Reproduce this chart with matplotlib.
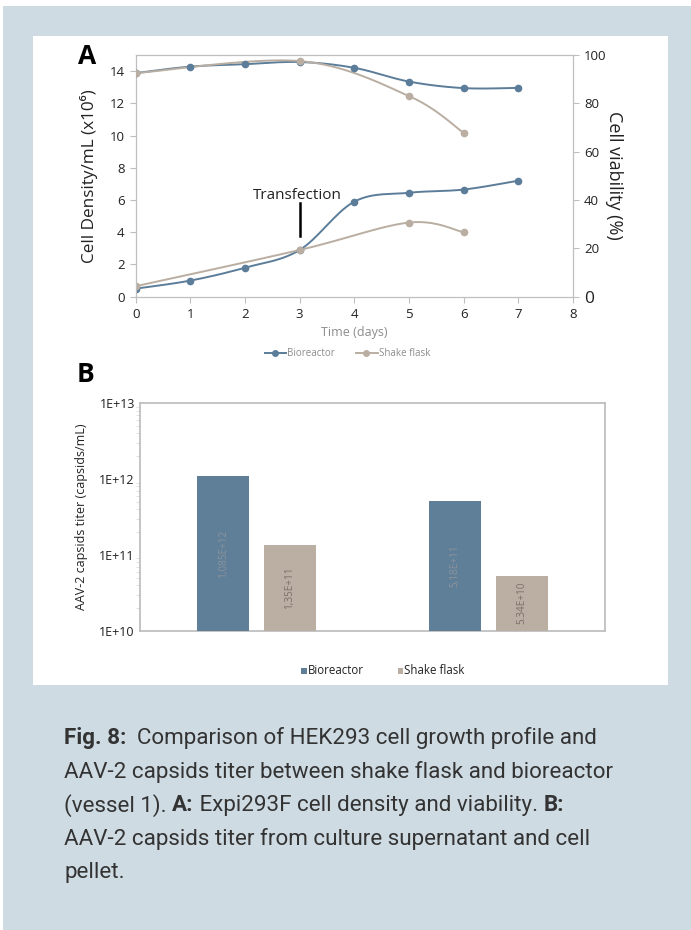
import numpy as np
import matplotlib
matplotlib.use("Agg")
from matplotlib import pyplot as plt
from matplotlib.patches import Rectangle

plt.rcParams['font.family'] = ['Open Sans', 'DejaVu Sans']

# panel A data
days_bio = [0, 1, 2, 3, 4, 5, 6, 7]
density_bio = [0.5, 1.0, 1.8, 2.9, 5.9, 6.45, 6.65, 7.2]
viability_bio = [92.5, 95.2, 96.2, 97.1, 94.7, 89.0, 86.3, 86.4]
days_flask = [0, 3, 5, 6]
density_flask = [0.65, 2.9, 4.6, 4.0]
viability_flask = [92.5, 97.5, 83.0, 67.8]

# panel B data
groups = [0, 1]
titer_bio = [1.085e12, 5.18e11]
titer_flask = [1.35e11, 5.34e10]
labels_bio = ["1,085E+12", "5,18E+11"]
labels_flask = ["1,35E+11", "5.34E+10"]
log_ticks = [1e10, 1e11, 1e12, 1e13]
log_ticklabels = ["1E+10", "1E+11", "1E+12", "1E+13"]

BLUE = "#5b7d99"
GRAY = "#b9aea1"
BAR_BLUE = "#5f7e98"
BAR_GRAY = "#bbafa3"
SPINE = "#bfbfbf"
BG = "#cfdbe3"

W, H = 691, 930


def px(l, t, r, b):
    return [l / W, 1 - b / H, (r - l) / W, (b - t) / H]


def smooth(x, y, n=30):
    # excel style smoothed line (catmull-rom through the points)
    pts = np.column_stack([x, y]).astype(float)
    out = [pts[0]]
    for i in range(len(pts) - 1):
        p0 = pts[max(i - 1, 0)]
        p1 = pts[i]
        p2 = pts[i + 1]
        p3 = pts[min(i + 2, len(pts) - 1)]
        c1 = p1 + (p2 - p0) / 6
        c2 = p2 - (p3 - p1) / 6
        t = np.linspace(0, 1, n)[1:, None]
        seg = ((1 - t) ** 3) * p1 + 3 * ((1 - t) ** 2) * t * c1 + 3 * (1 - t) * t ** 2 * c2 + t ** 3 * p2
        out.extend(seg)
    out = np.array(out)
    return out[:, 0], out[:, 1]


fig = plt.figure(figsize=(W / 100, H / 100), dpi=100)
fig.patch.set_facecolor("white")
fig.patches.append(Rectangle((3 / W, 0), 1, 1 - 6 / H, transform=fig.transFigure,
                             facecolor=BG, edgecolor="none", zorder=-2))
fig.patches.append(Rectangle((33 / W, 1 - 685 / H), (668 - 33) / W, (685 - 36) / H,
                             transform=fig.transFigure, facecolor="white",
                             edgecolor="none", zorder=-1))

# ---- panel A ----
ax = fig.add_axes(px(135.7, 55, 573, 296.7))
ax2 = ax.twinx()
ax.set_xlim(0, 8)
ax.set_ylim(0, 15)
ax2.set_ylim(0, 100)
ax.set_xticks(range(9))
ax.set_yticks(range(0, 15, 2))
ax2.set_yticks(range(0, 101, 20))
for a in (ax, ax2):
    for s in a.spines.values():
        s.set_color(SPINE)
    a.tick_params(colors=SPINE, labelcolor="#222222", labelsize=9.5, length=4, pad=4)
for lab in ax2.get_yticklabels():
    if lab.get_text() == "0":
        lab.set_fontsize(12.5)

xb, yb = smooth(days_bio, density_bio)
ax.plot(xb, yb, color=BLUE, lw=1.4, zorder=3)
ax.plot(days_bio, density_bio, "o", color=BLUE, ms=4.5, zorder=4)
xf, yf = smooth(days_flask, density_flask)
ax.plot(xf, yf, color=GRAY, lw=1.4, zorder=3)
ax.plot(days_flask, density_flask, "o", color=GRAY, ms=4.5, zorder=4)

xb, yb = smooth(days_bio, viability_bio)
ax2.plot(xb, yb, color=BLUE, lw=1.4, zorder=3)
ax2.plot(days_bio, viability_bio, "o", color=BLUE, ms=4.5, zorder=4)
xf, yf = smooth(days_flask, viability_flask)
ax2.plot(xf, yf, color=GRAY, lw=1.4, zorder=3)
ax2.plot(days_flask, viability_flask, "o", color=GRAY, ms=4.5, zorder=4)

ax.plot([3, 3], [3.75, 5.8], color="black", lw=1.8, zorder=5)
ax.text(2.96, 6.25, "Transfection", ha="center", va="center", fontsize=11, color="#222222")

ax.set_ylabel("Cell Density/mL (x10\u2076)", fontsize=12.3, color="#222222", labelpad=8)
ax2.set_ylabel("Cell viability (%)", fontsize=13, color="#222222", rotation=-90, labelpad=12)
ax.set_xlabel("Time (days)", fontsize=9, color="#8c8c8c", labelpad=4)

fig.text(87.5 / W, 1 - 56 / H, "A", fontsize=19, fontweight="bold", ha="center", va="center")

# legend A
la_y = 1 - 353.3 / H
fig.lines.append(plt.Line2D([264.6 / W, 285.7 / W], [la_y, la_y], color=BLUE, lw=1.4,
                            transform=fig.transFigure))
fig.lines.append(plt.Line2D([274.6 / W], [la_y], color=BLUE, marker="o", ms=4,
                            transform=fig.transFigure))
fig.text(287.5 / W, la_y, "Bioreactor", fontsize=7, color="#8c8c8c", va="center")
fig.lines.append(plt.Line2D([356.4 / W, 377.9 / W], [la_y, la_y], color=GRAY, lw=1.4,
                            transform=fig.transFigure))
fig.lines.append(plt.Line2D([366.4 / W], [la_y], color=GRAY, marker="o", ms=4,
                            transform=fig.transFigure))
fig.text(379.5 / W, la_y, "Shake flask", fontsize=7, color="#8c8c8c", va="center")

# ---- panel B ----
bx = fig.add_axes(px(140.4, 403.3, 604.6, 630.7))
bx.set_yscale("log")
bx.set_ylim(1e10, 1e13)
bx.set_xlim(-0.5, 1.5)
bw = 0.224
off = 0.143
g = np.array(groups)
bars1 = bx.bar(g - off, titer_bio, width=bw, color=BAR_BLUE, zorder=3)
bars2 = bx.bar(g + off, titer_flask, width=bw, color=BAR_GRAY, zorder=3)
for bars, vals, labs, col in ((bars1, titer_bio, labels_bio, "#8a949d"),
                              (bars2, titer_flask, labels_flask, "#7a7168")):
    for b, v, lab in zip(bars, vals, labs):
        mid = 10 ** ((10 + np.log10(v)) / 2)
        bx.text(b.get_x() + b.get_width() / 2, mid, lab, rotation=90, ha="center",
                va="center", fontsize=7.2, color=col, zorder=4)
bx.set_xticks([])
bx.set_yticks(log_ticks)
bx.set_yticklabels(log_ticklabels)
for s in bx.spines.values():
    s.set_color(SPINE)
    s.set_linewidth(1.3)
bx.tick_params(axis="y", which="major", colors=SPINE, labelcolor="#222222", labelsize=9, length=0, pad=4)
bx.tick_params(axis="y", which="minor", colors="#dddddd", length=3)
bx.set_ylabel("AAV-2 capsids titer (capsids/mL)", fontsize=9, color="#222222", labelpad=8)

fig.text(85.7 / W, 1 - 375 / H, "B", fontsize=19, fontweight="bold", ha="center", va="center")

lb_y = 1 - 670.7 / H
fig.patches.append(Rectangle((301 / W, lb_y - 3 / H), 5.5 / W, 6 / H, transform=fig.transFigure,
                             facecolor=BAR_BLUE, edgecolor="none"))
fig.text(308 / W, lb_y, "Bioreactor", fontsize=8.3, color="#222222", va="center")
fig.patches.append(Rectangle((397.5 / W, lb_y - 3 / H), 5.5 / W, 6 / H, transform=fig.transFigure,
                             facecolor=BAR_GRAY, edgecolor="none"))
fig.text(404.5 / W, lb_y, "Shake flask", fontsize=8.3, color="#222222", va="center")

# ---- caption ----
caption = [
    [("Fig. 8:", True), ("  Comparison of HEK293 cell growth profile and", False)],
    [("AAV-2 capsids titer between shake flask and bioreactor", False)],
    [("(vessel 1). ", False), ("A:", True), (" Expi293F cell density and viability. ", False), ("B:", True)],
    [("AAV-2 capsids titer from culture supernatant and cell", False)],
    [("pellet.", False)],
]
renderer = fig.canvas.get_renderer()
line_ys = [738.3, 771.7, 805.2, 838.7, 872.2]
for parts, ly in zip(caption, line_ys):
    x = 64.0
    for txt, bold in parts:
        t = fig.text(x / W, 1 - ly / H, txt, fontsize=16.1, color="#333333", va="center",
                     fontweight="bold" if bold else "normal", family=["Roboto", "DejaVu Sans"])
        bb = t.get_window_extent(renderer)
        x += bb.width

fig.savefig("out.png", dpi=100)
